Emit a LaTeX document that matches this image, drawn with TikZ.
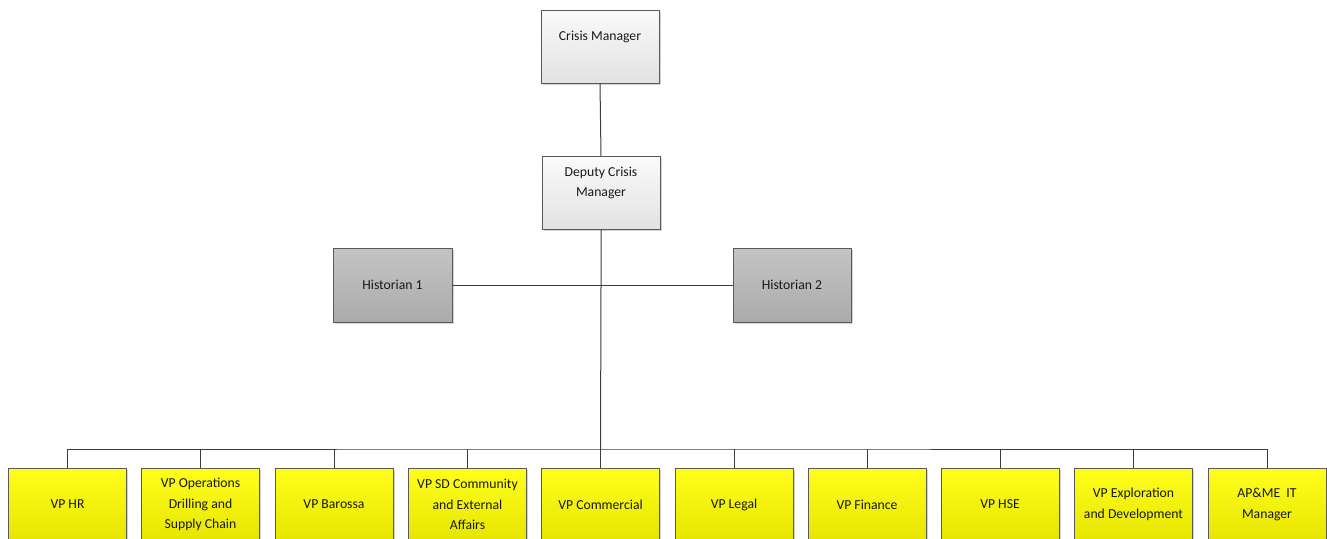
\documentclass[tikz,border=0pt]{standalone}
\usepackage{fontspec}
\setmainfont{Carlito}
\usetikzlibrary{shadows}
\definecolor{edge}{HTML}{5A5A5A}
\definecolor{lnk}{HTML}{3C3C3C}
\definecolor{ytop}{HTML}{FFFF1A}
\definecolor{ybot}{HTML}{E4E400}
\definecolor{ltop}{HTML}{FAFAFA}
\definecolor{lbot}{HTML}{E2E2E2}
\definecolor{dtop}{HTML}{C4C4C4}
\definecolor{dbot}{HTML}{ABABAB}
\tikzset{
  basebox/.style={draw=edge, line width=0.9pt, inner sep=0pt,
    drop shadow={shadow xshift=1.5pt, shadow yshift=-1.5pt, opacity=0.35, fill=gray}},
  lightbox/.style={basebox, top color=ltop, bottom color=lbot},
  darkbox/.style={basebox, top color=dtop, bottom color=dbot},
  yelbox/.style={basebox, top color=ytop, bottom color=ybot, minimum width=118pt, minimum height=77pt},
  txt/.style={font=\fontsize{13.7}{20.5}\selectfont, text=black!90, align=center, inner sep=0pt},
  link/.style={draw=lnk, line width=1pt},
}
\begin{document}
\begin{tikzpicture}[x=1pt,y=-1pt]
\useasboundingbox (0,0) rectangle (1327,538);
\clip (0,0) rectangle (1327,538);
% top
\node[lightbox, minimum width=118pt, minimum height=73pt] (cm) at (600,46.5) {};
\node[txt] (cmt) at (600,37) {Crisis Manager};
\node[lightbox, minimum width=118pt, minimum height=73pt] (dcm) at (601,193) {};
\node[txt] (dcmt) at (601,183) {Deputy Crisis\\Manager};
\node[darkbox, minimum width=119pt, minimum height=74pt] (h1) at (392.5,285) {};
\node[txt] (h1t) at (392.5,285) {Historian 1};
\node[darkbox, minimum width=118pt, minimum height=74pt] (h2) at (792,285) {};
\node[txt] (h2t) at (792,285) {Historian 2};
% bottom row
\foreach \n/\x/\t in {
  b1/67.5/{VP HR},
  b2/200.5/{VP Operations\\Drilling and\\Supply Chain},
  b3/334/{VP Barossa},
  b4/467.5/{VP SD Community\\and External\\Affairs},
  b5/600.5/{VP Commercial},
  b6/734/{VP Legal},
  b7/867/{VP Finance},
  b8/1000/{VP HSE},
  b9/1133.5/{VP Exploration\\and Development},
  b10/1267/{AP\&ME~ IT\\Manager}}{
  \node[yelbox] (\n) at (\x,506.5) {};
  \node[txt] (\n t) at (\x,504.5) {\t};
}
\coordinate (bus) at (600.5,449);
\coordinate (hbus) at (601,285);
% connectors
\draw[link] (cm.south) -- (dcm.north);
\draw[link] (dcm.south) -- (hbus) -- (bus);
\draw[link] (h1.east) -- (h2.west);
\draw[link] (b1.north) |- (bus) -| (b10.north);
\foreach \n in {b2,b3,b4,b5,b6,b7,b8,b9}{
  \draw[link] (\n.north) -- (\n.north |- bus);
}
\end{tikzpicture}
\end{document}
